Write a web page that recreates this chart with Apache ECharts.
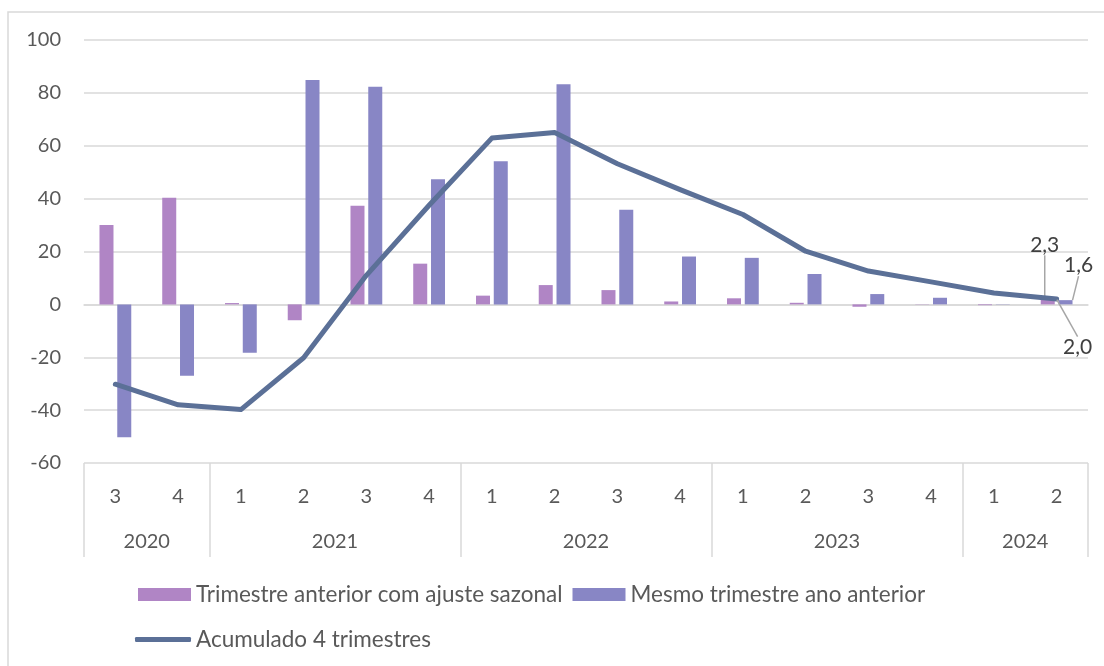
<!DOCTYPE html>
<html>
<head>
<meta charset="utf-8">
<script src="https://cdn.jsdelivr.net/npm/echarts@6/dist/echarts.min.js"></script>
<style>
html, body { margin: 0; padding: 0; background: #fff; }
#chart { width: 1104px; height: 666px; }
</style>
</head>
<body>
<div id="chart"></div>
<script>
// dados
var quarters = ['3', '4', '1', '2', '3', '4', '1', '2', '3', '4', '1', '2', '3', '4', '1', '2'];
var years = ['2020', '2021', '2022', '2023', '2024'];
var yearCenters = [1, 4, 8, 12, 15];          // meio de cada ano, em trimestres
var yearBounds = [0, 2, 6, 10, 14, 16];       // separadores entre anos
var trimAnterior = [30.0, 40.3, 0.5, -6.0, 37.3, 15.4, 3.3, 7.3, 5.4, 1.1, 2.3, 0.6, -0.9, 0.1, -0.3, 2.3];
var mesmoTrim = [-50.3, -27.0, -18.3, 84.9, 82.3, 47.3, 54.1, 83.3, 35.8, 18.1, 17.6, 11.5, 3.9, 2.5, 0.1, 1.6];
var acumulado = [-30.2, -38.0, -39.8, -20.2, 11.0, 37.5, 62.9, 65.0, 53.2, 43.4, 34.0, 20.1, 12.6, 8.5, 4.3, 2.0];

var names = ['Trimestre anterior com ajuste sazonal', 'Mesmo trimestre ano anterior', 'Acumulado 4 trimestres'];
var font = 'Lato';
var textColor = '#595959';
var gridColor = '#d9d9d9';

// rótulo só no último ponto de cada série
function lastLabeled(arr, label) {
    return arr.map(function (v, i) {
        return i === arr.length - 1 ? { value: v, label: label } : v;
    });
}
function fmt(p) {
    return Number(p.value).toFixed(1).replace('.', ',');
}
var lastLabel = {
    show: true,
    formatter: fmt,
    fontFamily: font,
    fontSize: 21,
    color: '#404040'
};
var guide = { show: true, lineStyle: { color: '#a6a6a6', width: 1.5 } };
var legendText = { fontFamily: font, fontSize: 22.5, color: textColor };

var chart = echarts.init(document.getElementById('chart'));
chart.setOption({
    animation: false,
    textStyle: { fontFamily: font },
    graphic: [{
        type: 'rect',
        shape: { x: 8, y: 12, width: 1200, height: 700 },
        style: { fill: 'none', stroke: gridColor, lineWidth: 1.5 },
        silent: true
    }],
    grid: { left: 84, right: 16, top: 40, bottom: 203 },
    legend: [{
        data: [names[0], names[1]],
        left: 138,
        top: 583,
        padding: 0,
        icon: 'rect',
        itemWidth: 53,
        itemHeight: 13,
        itemGap: 10,
        textStyle: legendText
    }, {
        data: [names[2]],
        left: 135,
        top: 628,
        padding: 0,
        icon: 'roundRect',
        itemWidth: 56,
        itemHeight: 5,
        textStyle: legendText
    }],
    xAxis: [{
        type: 'category',
        data: quarters,
        position: 'bottom',
        axisLine: { lineStyle: { color: gridColor, width: 1.5 } },
        axisTick: { show: false },
        axisLabel: { interval: 0, margin: 24, fontSize: 20, color: textColor, fontFamily: font }
    }, {
        type: 'value',
        min: 0,
        max: 16,
        position: 'bottom',
        splitLine: { show: false },
        axisLine: { show: false },
        axisTick: {
            show: true,
            customValues: yearBounds,
            length: 94,
            lineStyle: { color: gridColor, width: 1.5 }
        },
        axisLabel: {
            customValues: yearCenters,
            margin: 69,
            fontSize: 20,
            color: textColor,
            fontFamily: font,
            formatter: function (v) {
                return years[yearCenters.indexOf(v)] || '';
            }
        }
    }],
    yAxis: {
        type: 'value',
        min: -60,
        max: 100,
        interval: 20,
        axisLine: { show: false },
        axisTick: { show: false },
        axisLabel: { margin: 23, fontSize: 20, color: textColor, fontFamily: font },
        splitLine: { lineStyle: { color: gridColor, width: 1.5 } }
    },
    series: [{
        name: names[0],
        type: 'bar',
        barWidth: 14,
        barGap: '27%',
        itemStyle: { color: '#B085C5' },
        data: lastLabeled(trimAnterior, Object.assign({ position: 'top' }, lastLabel)),
        labelLayout: { dx: -3, dy: -38 },
        labelLine: guide
    }, {
        name: names[1],
        type: 'bar',
        barWidth: 14,
        itemStyle: { color: '#8886C5' },
        data: lastLabeled(mesmoTrim, Object.assign({ position: 'top' }, lastLabel)),
        labelLayout: { dx: 13, dy: -19 },
        labelLine: guide
    }, {
        name: names[2],
        type: 'line',
        z: 5,
        symbol: 'circle',
        symbolSize: 1,
        showSymbol: true,
        itemStyle: { color: '#5B7097' },
        lineStyle: { color: '#5B7097', width: 5, cap: 'round', join: 'round' },
        data: lastLabeled(acumulado, Object.assign({ position: 'bottom' }, lastLabel)),
        labelLayout: { dx: 21, dy: 32 },
        labelLine: guide
    }]
});
</script>
</body>
</html>
